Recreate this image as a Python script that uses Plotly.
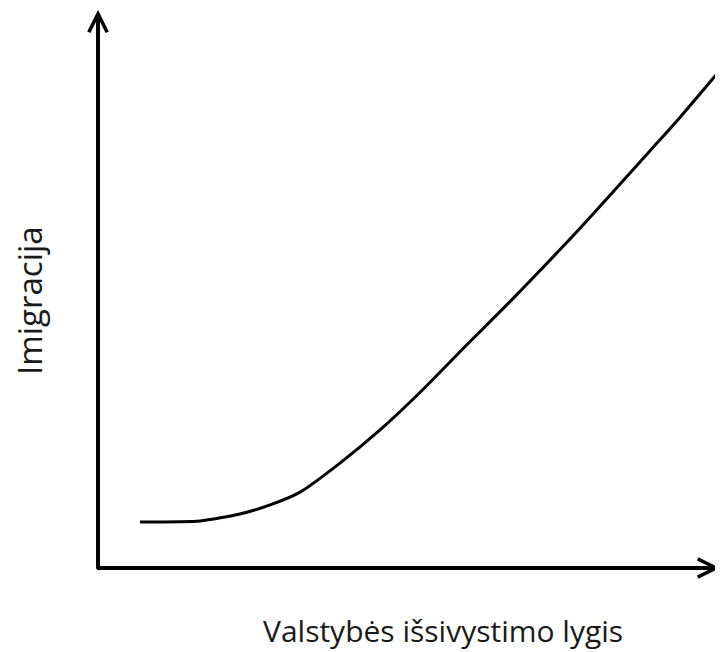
import plotly.graph_objects as go

# Conceptual curve: development level (x) vs immigration (y), arbitrary units 0-100
development = [6.75, 16.4, 22.8, 27.65, 32.5, 38.9, 45.3, 51.8, 59.3, 66.2, 77.5, 89.9, 93.6, 100.3]
immigration = [8.24, 8.42, 9.68, 11.3, 13.6, 18.8, 24.7, 31.5, 40.0, 47.7, 60.9, 76.2, 80.8, 89.6]

x_label = "Valstybės išsivystimo lygis"
y_label = "Imigracija"

W, H = 723, 652
# page body has an 8px margin, so figure coords = page coords - 8
ML, MR, MT, MB = 90, 11, 2, 92

fig = go.Figure()
fig.add_trace(go.Scatter(
    x=development, y=immigration, mode="lines",
    line=dict(color="black", width=3, shape="spline", smoothing=0.6),
    hoverinfo="skip", showlegend=False, cliponaxis=False,
))

axis_common = dict(showgrid=False, zeroline=False, showticklabels=False,
                   ticks="", showline=False, fixedrange=True)
fig.update_layout(
    width=W, height=H,
    margin=dict(l=ML, r=MR, t=MT, b=MB, autoexpand=False),
    paper_bgcolor="white", plot_bgcolor="white",
    xaxis=dict(range=[0, 100], **axis_common),
    yaxis=dict(range=[0, 100], **axis_common),
    font=dict(family="Open Sans, Lato, sans-serif", color="#1a1a1a"),
)

# axes with arrowheads
fig.add_annotation(x=100, y=0, ax=-0.4, ay=0, xref="x", yref="y", axref="x", ayref="y",
                   showarrow=True, arrowhead=5, arrowsize=0.9, arrowwidth=4,
                   arrowcolor="black", text="", standoff=0)
fig.add_annotation(x=0, y=100, ax=0, ay=-0.4, xref="x", yref="y", axref="x", ayref="y",
                   showarrow=True, arrowhead=5, arrowsize=0.9, arrowwidth=4,
                   arrowcolor="black", text="", standoff=0)

pw, ph = W - ML - MR, H - MT - MB
def px(xp):
    return (xp - ML) / pw
def py(yp):
    return (H - MB - yp) / ph

fig.add_annotation(x=px(435), y=py(622), xref="paper", yref="paper", text=x_label,
                   xanchor="center", yanchor="middle",
                   showarrow=False, font=dict(size=30))
fig.add_annotation(x=px(21), y=py(293), xref="paper", yref="paper", text=y_label,
                   xanchor="center", yanchor="middle",
                   showarrow=False, textangle=-90, font=dict(size=33))

fig.write_html("out.html")
